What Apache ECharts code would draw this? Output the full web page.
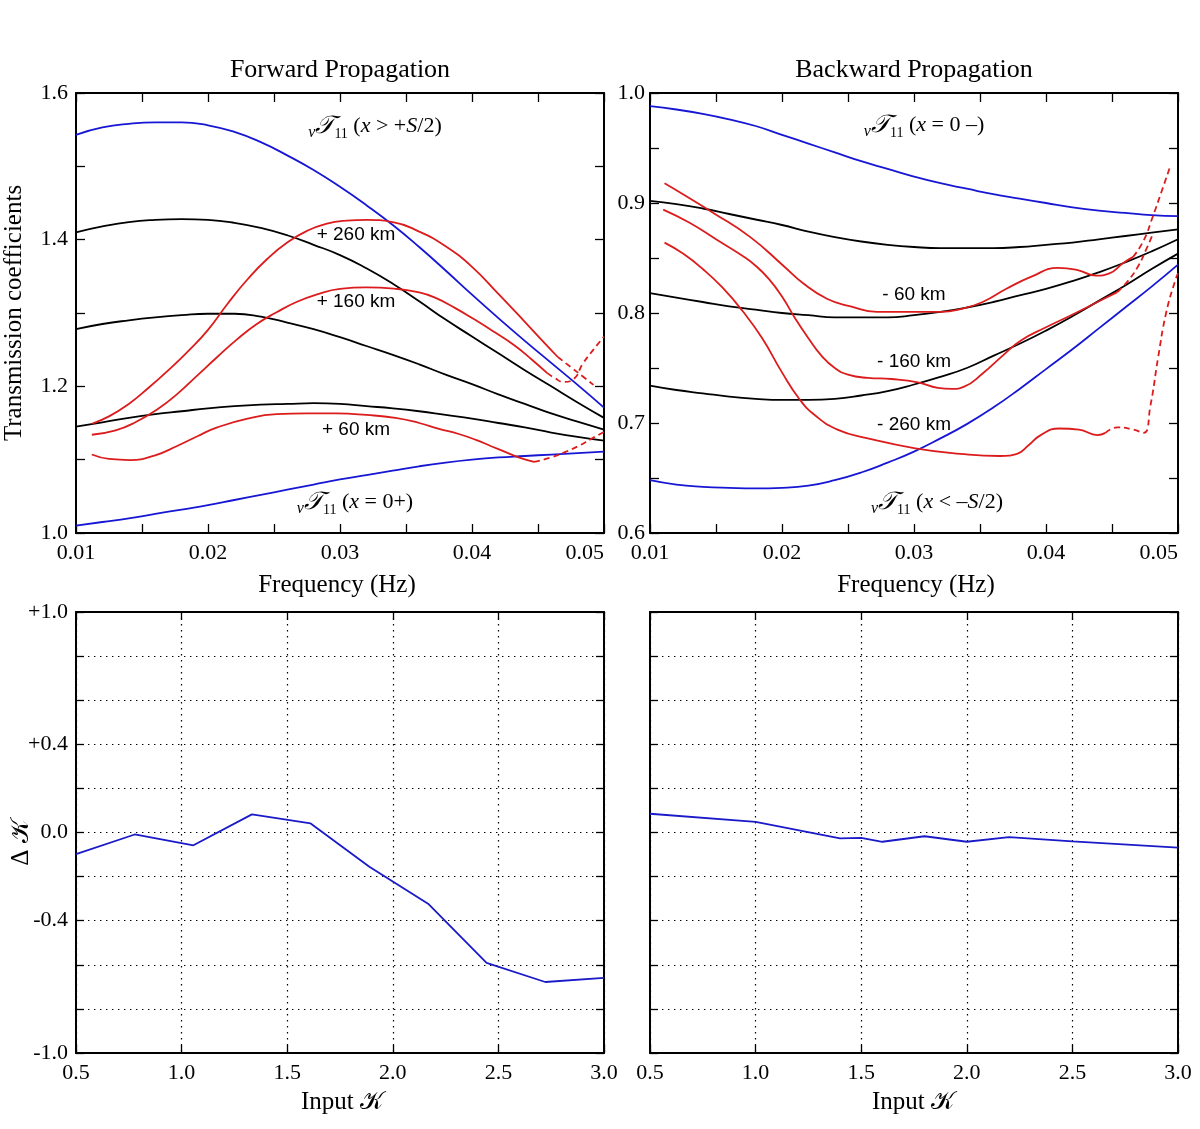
<!DOCTYPE html>
<html><head><meta charset="utf-8">
<script src="https://cdn.jsdelivr.net/npm/echarts@6/dist/echarts.min.js"></script>
<style>html,body{margin:0;padding:0;background:#fff}#c{width:1200px;height:1129px}</style>
</head><body><div id="c"></div>
<script>
// ---------- DATA ----------
const FREQ = [0.010,0.012,0.014,0.016,0.018,0.020,0.022,0.024,0.026,0.028,0.030,0.032,0.034,0.036,0.038,0.040,0.042,0.044,0.046,0.048,0.050];

// Forward propagation
const fwdBlueOuter = [1.543,1.553,1.558,1.560,1.560,1.556,1.547,1.533,1.515,1.495,1.472,1.447,1.420,1.390,1.358,1.325,1.293,1.262,1.232,1.202,1.171];
const fwdBlack260  = [1.410,1.418,1.424,1.427,1.428,1.427,1.423,1.416,1.406,1.393,1.379,1.361,1.340,1.316,1.291,1.268,1.245,1.222,1.200,1.178,1.157];
const fwdBlack160  = [1.278,1.285,1.290,1.294,1.297,1.299,1.299,1.295,1.287,1.278,1.267,1.255,1.243,1.230,1.216,1.203,1.189,1.176,1.163,1.152,1.141];
const fwdBlack60   = [1.145,1.151,1.157,1.162,1.166,1.170,1.173,1.175,1.176,1.177,1.176,1.173,1.170,1.166,1.161,1.156,1.150,1.144,1.137,1.131,1.126];
const fwdBlueInner = [1.010,1.015,1.020,1.026,1.032,1.038,1.045,1.052,1.059,1.066,1.073,1.079,1.085,1.091,1.096,1.100,1.103,1.105,1.107,1.109,1.111];

const fwdRed260X = [0.0112,0.0125,0.0140,0.0155,0.0170,0.0185,0.0200,0.0215,0.0230,0.0245,0.0260,0.0275,0.0290,0.0305,0.0320,0.0340,0.0360,0.0380,0.0400,0.0420,0.0440,0.0455,0.0465];
const fwdRed260Y = [1.149,1.159,1.176,1.198,1.222,1.248,1.277,1.313,1.346,1.374,1.396,1.412,1.422,1.426,1.427,1.424,1.411,1.391,1.363,1.326,1.288,1.259,1.240];
const fwdRed260DashX = [0.0465,0.0475,0.0485,0.0492];
const fwdRed260DashY = [1.240,1.226,1.212,1.202];

const fwdRed160X = [0.0112,0.0130,0.0145,0.0162,0.0177,0.0192,0.0207,0.0222,0.0237,0.0252,0.0267,0.0282,0.0300,0.0320,0.0342,0.0360,0.0372,0.0387,0.0402,0.0417,0.0432,0.0445,0.0457];
const fwdRed160Y = [1.134,1.140,1.151,1.169,1.190,1.215,1.240,1.264,1.285,1.301,1.315,1.325,1.333,1.335,1.333,1.328,1.321,1.307,1.291,1.274,1.256,1.237,1.218];
const fwdRed160DashX = [0.0457,0.0463,0.0469,0.0477,0.0484,0.0492,0.0500];
const fwdRed160DashY = [1.218,1.211,1.206,1.210,1.231,1.250,1.268];

const fwdRed60X = [0.0112,0.0125,0.0141,0.0160,0.0177,0.0192,0.0207,0.0230,0.0252,0.0275,0.0297,0.0320,0.0342,0.0360,0.0375,0.0390,0.0403,0.0415,0.0426,0.0437,0.0447];
const fwdRed60Y = [1.107,1.101,1.0995,1.106,1.119,1.132,1.144,1.156,1.162,1.163,1.163,1.161,1.157,1.150,1.142,1.135,1.127,1.118,1.110,1.102,1.097];
const fwdRed60DashX = [0.0447,0.0460,0.0470,0.0480,0.0490,0.0500];
const fwdRed60DashY = [1.097,1.103,1.110,1.118,1.128,1.138];

// Backward propagation
const bwdBlueInner = [0.988,0.985,0.981,0.976,0.970,0.962,0.954,0.946,0.938,0.931,0.924,0.918,0.913,0.908,0.904,0.900,0.896,0.893,0.891,0.889,0.888];
const bwdBlackTop  = [0.902,0.899,0.895,0.890,0.885,0.880,0.874,0.869,0.865,0.862,0.860,0.859,0.859,0.859,0.860,0.862,0.864,0.867,0.870,0.873,0.876];
const bwdBlackMid  = [0.818,0.814,0.810,0.806,0.803,0.800,0.798,0.796,0.796,0.796,0.798,0.801,0.805,0.810,0.816,0.822,0.829,0.837,0.846,0.856,0.867];
const bwdBlackLow  = [0.734,0.730,0.727,0.724,0.722,0.721,0.721,0.722,0.725,0.729,0.735,0.742,0.750,0.761,0.772,0.784,0.797,0.811,0.825,0.840,0.854];
const bwdBlueOuter = [0.648,0.644,0.642,0.641,0.6405,0.641,0.643,0.648,0.655,0.664,0.674,0.686,0.699,0.714,0.731,0.749,0.767,0.786,0.805,0.824,0.844];

const bwdRed60X = [0.0111,0.0125,0.0148,0.0176,0.0201,0.0216,0.0234,0.0252,0.0272,0.0297,0.0320,0.0337,0.0352,0.0370,0.0389,0.0409,0.0424,0.0438,0.0448,0.0458,0.0466];
const bwdRed60Y = [0.918,0.908,0.891,0.869,0.843,0.827,0.813,0.806,0.801,0.801,0.801,0.804,0.810,0.822,0.833,0.841,0.839,0.834,0.836,0.845,0.851];
const bwdRed60DashX = [0.0466,0.0474,0.0481,0.0488,0.0494];
const bwdRed60DashY = [0.851,0.866,0.888,0.912,0.933];

const bwdRed160X = [0.0110,0.0130,0.0150,0.0170,0.0180,0.0190,0.0200,0.0210,0.0220,0.0230,0.0240,0.0250,0.0265,0.0283,0.0303,0.0318,0.0329,0.0338,0.0352,0.0367,0.0381,0.0400,0.0419,0.0439,0.0454];
const bwdRed160Y = [0.894,0.882,0.867,0.852,0.843,0.831,0.815,0.795,0.777,0.761,0.750,0.744,0.741,0.740,0.737,0.732,0.731,0.733,0.745,0.761,0.775,0.787,0.798,0.810,0.819];
const bwdRed160DashX = [0.0454,0.0462,0.0470,0.0476,0.0481];
const bwdRed160DashY = [0.819,0.829,0.843,0.858,0.872];

const bwdRed260X = [0.0111,0.0125,0.0140,0.0155,0.0170,0.0185,0.0200,0.0213,0.0225,0.0242,0.0265,0.0301,0.0335,0.0365,0.0378,0.0387,0.0396,0.0410,0.0425,0.0439,0.0445];
const bwdRed260Y = [0.864,0.854,0.840,0.823,0.802,0.777,0.746,0.722,0.707,0.694,0.686,0.677,0.672,0.670,0.672,0.680,0.689,0.695,0.694,0.689,0.691];
const bwdRed260DashX = [0.0445,0.0454,0.0466,0.0474,0.0479,0.0485,0.0491,0.0498,0.0500];
const bwdRed260DashY = [0.691,0.696,0.694,0.691,0.715,0.760,0.800,0.830,0.836];

// Delta K panels
const kFwd  = [0.5,0.778,1.056,1.333,1.611,1.889,2.167,2.444,2.722,3.0];
const dkFwd = [-0.098,-0.009,-0.058,0.082,0.041,-0.155,-0.323,-0.591,-0.678,-0.659];
const kBwd  = [0.5,1.0,1.4,1.5,1.6,1.8,2.0,2.2,2.5,3.0];
const dkBwd = [0.085,0.048,-0.027,-0.024,-0.042,-0.017,-0.042,-0.021,-0.040,-0.069];

const dkLabels = {'1.0':'+1.0','0.4':'+0.4','0.0':'0.0','-0.4':'-0.4','-1.0':'-1.0'};

// ---------- CHART ----------
const SERIF = 'Liberation Serif';
const SANS = 'Liberation Sans';
const BLUE = '#1616d4', RED = '#dc1c1c', BLACK = '#000000';

const grids = [
  {left:76, top:93, width:528, height:440},
  {left:650, top:93, width:528, height:440},
  {left:76, top:612, width:528, height:441},
  {left:650, top:612, width:528, height:441}
].map(g => Object.assign({outerBoundsMode:'none', containLabel:false}, g));

const xAxes = [], yAxes = [];
function mkAxes(gi, xr, yr, xFmt, yFmt, yMargin, dotted, tickLen) {
  const common = {type:'value', gridIndex:gi,
    axisLine:{show:true, onZero:false, lineStyle:{color:'#000', width:2}},
    axisTick:{show:true, inside:true, length:tickLen, lineStyle:{color:'#000', width:1.3}},
    axisPointer:{show:false}};
  const dot = {show:dotted, lineStyle:{color:'#000', width:1.2, type:[1.4,4.6]}};
  xAxes.push(Object.assign({}, common, {min:xr[0], max:xr[1], interval:xr[2], position:'bottom',
    axisLabel:{show:true, formatter:xFmt, fontFamily:SERIF, fontSize:22, color:'#000', margin:9, alignMaxLabel: gi<2 ? 'right' : null, hideOverlap:false, showMinLabel:true, showMaxLabel:true},
    splitLine:dot}));
  xAxes.push(Object.assign({}, common, {min:xr[0], max:xr[1], interval:xr[2], position:'top',
    axisLabel:{show:false}, splitLine:{show:false}}));
  yAxes.push(Object.assign({}, common, {min:yr[0], max:yr[1], interval:yr[2], position:'left',
    axisLabel:{show: !!yFmt, formatter:yFmt || '', fontFamily:SERIF, fontSize:22, color:'#000', margin:yMargin, showMinLabel:true, showMaxLabel:true},
    splitLine:dot}));
  yAxes.push(Object.assign({}, common, {min:yr[0], max:yr[1], interval:yr[2], position:'right',
    axisLabel:{show:false}, splitLine:{show:false}}));
}
const fFmt = v => (Math.round(v*1000) % 10 === 0) ? v.toFixed(2) : '';
mkAxes(0, [0.01,0.05,0.005], [1.0,1.6,0.1], fFmt, v => (Math.round(v*10) % 2 === 0) ? v.toFixed(1) : '', 8, false, 9);
mkAxes(1, [0.01,0.05,0.005], [0.6,1.0,0.05], fFmt, v => (Math.round(v*100) % 10 === 0) ? v.toFixed(1) : '', 5, false, 9);
const kFmt = v => v.toFixed(1);
const dFmt = v => { const k = (Math.round(v*10)/10).toFixed(1); return dkLabels[k === '-0.0' ? '0.0' : k] || ''; };
mkAxes(2, [0.5,3.0,0.5], [-1.0,1.0,0.2], kFmt, dFmt, 8, true, 8);
mkAxes(3, [0.5,3.0,0.5], [-1.0,1.0,0.2], kFmt, null, 8, true, 8);

function zip(xs, ys) { return xs.map((x,i) => [x, ys[i]]); }
function line(xs, ys, color, gi, dashed, smooth) {
  return {type:'line', xAxisIndex:gi*2, yAxisIndex:gi*2, data:zip(xs, ys),
    showSymbol:false, symbol:'none', smooth: smooth === undefined ? 0.5 : smooth, silent:true,
    lineStyle:{color:color, width:1.8, type: dashed ? [6,4] : 'solid'}, z:3};
}
const series = [
  line(FREQ, fwdBlueOuter, BLUE, 0), line(FREQ, fwdBlack260, BLACK, 0), line(FREQ, fwdBlack160, BLACK, 0),
  line(FREQ, fwdBlack60, BLACK, 0), line(FREQ, fwdBlueInner, BLUE, 0),
  line(fwdRed260X, fwdRed260Y, RED, 0), line(fwdRed260DashX, fwdRed260DashY, RED, 0, true),
  line(fwdRed160X, fwdRed160Y, RED, 0), line(fwdRed160DashX, fwdRed160DashY, RED, 0, true),
  line(fwdRed60X, fwdRed60Y, RED, 0), line(fwdRed60DashX, fwdRed60DashY, RED, 0, true),
  line(FREQ, bwdBlueInner, BLUE, 1), line(FREQ, bwdBlackTop, BLACK, 1), line(FREQ, bwdBlackMid, BLACK, 1),
  line(FREQ, bwdBlackLow, BLACK, 1), line(FREQ, bwdBlueOuter, BLUE, 1),
  line(bwdRed60X, bwdRed60Y, RED, 1), line(bwdRed60DashX, bwdRed60DashY, RED, 1, true),
  line(bwdRed160X, bwdRed160Y, RED, 1), line(bwdRed160DashX, bwdRed160DashY, RED, 1, true),
  line(bwdRed260X, bwdRed260Y, RED, 1), line(bwdRed260DashX, bwdRed260DashY, RED, 1, true),
  line(kFwd, dkFwd, '#1a1ac8', 2, false, false),
  line(kBwd, dkBwd, '#1a1ac8', 3, false, false)
];

// rich math text
const rich = {
  v:{fontFamily:SERIF, fontStyle:'italic', fontSize:16, lineHeight:30, verticalAlign:'bottom', fill:'#000'},
  T:{fontFamily:SERIF, fontStyle:'italic', fontSize:25, lineHeight:30, fill:'#000'},
  s:{fontFamily:SERIF, fontSize:14, lineHeight:30, verticalAlign:'bottom', fill:'#000'},
  n:{fontFamily:SERIF, fontSize:22, lineHeight:30, fill:'#000'},
  i:{fontFamily:SERIF, fontStyle:'italic', fontSize:22, lineHeight:30, fill:'#000'}
};
function txt(x, y, text, font, rot) {
  return {type:'text', x:x, y:y, rotation: rot || 0, silent:true, z:10,
    style:{text:text, font:font, fill:'#000', align:'center', verticalAlign:'middle'}};
}
function math(x, y, body) {
  return {type:'text', x:x, y:y, silent:true, z:10,
    style:{text:'{v|v}{T|𝒯}{s|11}' + body, rich:rich, align:'center', verticalAlign:'middle', fill:'#000'}};
}
const kmFont = '19px ' + SANS;
const graphic = [
  txt(340, 70, 'Forward Propagation', '26px ' + SERIF),
  txt(914, 70, 'Backward Propagation', '26px ' + SERIF),
  txt(337, 585, 'Frequency (Hz)', '25px ' + SERIF),
  txt(916, 585, 'Frequency (Hz)', '25px ' + SERIF),
  txt(14, 313, 'Transmission coefficients', '25px ' + SERIF, Math.PI/2),
  txt(21, 843, 'Δ 𝒦', '25px ' + SERIF, Math.PI/2),
  txt(342, 1102, 'Input 𝒦', '25px ' + SERIF),
  txt(913, 1102, 'Input 𝒦', '25px ' + SERIF),
  math(375, 126, '{n| (}{i|x}{n| > +}{i|S}{n|/2)}'),
  math(355, 502, '{n| (}{i|x}{n| = 0+)}'),
  math(924, 125, '{n| (}{i|x}{n| = 0 –)}'),
  math(937, 502, '{n| (}{i|x}{n| < –}{i|S}{n|/2)}'),
  txt(356, 235, '+ 260 km', kmFont),
  txt(356, 302, '+ 160 km', kmFont),
  txt(356, 430, '+ 60 km', kmFont),
  txt(914, 295, '- 60 km', kmFont),
  txt(914, 362, '- 160 km', kmFont),
  txt(914, 425, '- 260 km', kmFont)
];

const chart = echarts.init(document.getElementById('c'), null, {renderer:'canvas'});
chart.setOption({
  animation:false, backgroundColor:'#fff',
  grid:grids, xAxis:xAxes, yAxis:yAxes, series:series, graphic:graphic,
  tooltip:{show:false}
});
</script></body></html>
